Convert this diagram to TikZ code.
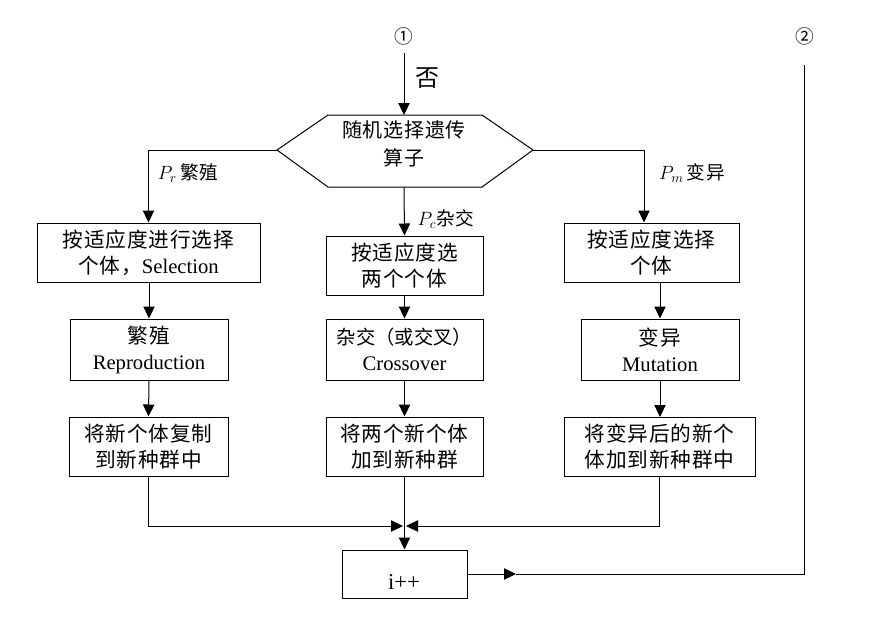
\documentclass[tikz,border=0pt]{standalone}
\usepackage{fontspec}
\setmainfont{Liberation Serif}
\newfontfamily\cjk[LetterSpace=4]{Noto Sans CJK SC}
\newfontfamily\cjkn{Noto Sans CJK SC}
\usetikzlibrary{arrows.meta}
\tikzset{
  arr/.style={-{Triangle[length=9pt,width=8.5pt]}},
  boxn/.style={draw, line width=0.75pt, align=center, inner sep=0pt,
               font=\fontsize{15.5}{19.5}\selectfont},
  lbl/.style={font=\fontsize{14}{17}\selectfont, inner sep=0pt}
}
\begin{document}
\begin{tikzpicture}[x=0.75pt,y=-0.75pt,line width=0.75pt]
\useasboundingbox (0,0) rectangle (876,618);
% top
\node[lbl,font=\fontsize{14}{17}\selectfont\cjk] (c1) at (404,36) {①};
\node[lbl,font=\fontsize{14}{17}\selectfont\cjk] (c2) at (805,36) {②};
\node[lbl,font=\fontsize{18}{20}\selectfont\cjk] (no) at (427,78) {否};
% hexagon
\coordinate (hexL) at (277,150);
\coordinate (hexTL) at (328,115);
\coordinate (hexTR) at (482,115);
\coordinate (hexR) at (533,150);
\coordinate (hexBR) at (482,187);
\coordinate (hexBL) at (328,187);
\coordinate (hexT) at (404,115);
\coordinate (hexB) at (404,187);
\draw (hexL) -- (hexTL) -- (hexTR) -- (hexR) -- (hexBR) -- (hexBL) -- cycle;
\node[align=center, inner sep=0pt, font=\fontsize{15}{21}\selectfont\cjk] (hex) at (404,144) {随机选择遗传\\算子};
\coordinate (c1b) at (404,53);
\draw[arr] (c1b) -- (hexT);
% row 1
\node[boxn, minimum width=167.25pt, minimum height=44.25pt] (b1) at (148.5,252.5) {{\cjk 按适应度进行选择}\\{\cjk 个体，}Selection};
\node[boxn, minimum width=117.75pt, minimum height=44.25pt] (b2) at (404.5,265.5) {\cjk 按适应度选\\\cjk 两个个体};
\node[boxn, minimum width=131.25pt, minimum height=44.25pt] (b3) at (651.5,252.5) {\cjk 按适应度选择\\\cjk 个体};
% row 2
\node[boxn, minimum width=118.5pt, minimum height=45.75pt] (b4) at (149,349.5) {{\cjk 繁殖}\\Reproduction};
\node[boxn, minimum width=117.75pt, minimum height=45.75pt] (b5) at (404.5,349.5) {{\fontsize{14.5}{19.5}\selectfont\cjkn 杂交（或交叉）}\\Crossover};
\node[boxn, minimum width=118.5pt, minimum height=45.75pt] (b6) at (660,349.5) {{\cjk 变异}\\Mutation};
% row 3
\node[boxn, minimum width=119.25pt, minimum height=44.25pt] (b7) at (148.5,446.5) {\cjk 将新个体复制\\\cjk 到新种群中};
\node[boxn, minimum width=117.75pt, minimum height=44.25pt] (b8) at (404.5,446.5) {\cjk 将两个新个体\\\cjk 加到新种群};
\node[boxn, minimum width=143.25pt, minimum height=44.25pt] (b9) at (659.5,447) {\cjk 将变异后的新个\\\cjk 体加到新种群中};
% i++
\node[draw, line width=0.75pt, minimum width=93.75pt, minimum height=36pt, inner sep=0pt] (bi) at (404.5,574) {};
\node[inner sep=0pt, font=\fontsize{17}{18}\selectfont] (itxt) at (404,582) {i++};
% labels
\node[lbl] (lr) at (188,173) {$P_r$\,{\cjk 繁殖}};
\node[lbl] (lc) at (446,219) {$P_c${\cjk 杂交}};
\node[lbl] (lm) at (692,173) {$P_m$\,{\cjk 变异}};
% connectors from hexagon
\draw[arr] (hexL) -| (b1.north);
\draw[arr] (hexB) -- (b2.north);
\coordinate (rdrop) at (644,150);
\draw[arr] (hexR) -- (rdrop) -- (rdrop |- b3.north);
% column arrows
\draw[arr] (b1.south -| b4.north) -- (b4.north);
\draw[arr] (b4.south) -- (b7.north);
\draw[arr] (b2.south) -- (b5.north);
\draw[arr] (b5.south) -- (b8.north);
\draw[arr] (b3.south -| b6.north) -- (b6.north);
\draw[arr] (b6.south) -- (b6.south |- b9.north);
% merge
\coordinate (mL) at (403,526);
\coordinate (mR) at (406,526);
\draw[arr] (b7.south) |- (mL);
\draw[arr] (b9.south) |- (mR);
\draw[arr] (b8.south) -- (bi.north);
% loop
\coordinate (loopmid) at (516,574);
\coordinate (loopcorner) at (804,574);
\coordinate (looptop) at (804,65);
\draw[arr] (bi.east) -- (loopmid);
\draw (loopmid) -- (loopcorner) -- (looptop);
\end{tikzpicture}
\end{document}
